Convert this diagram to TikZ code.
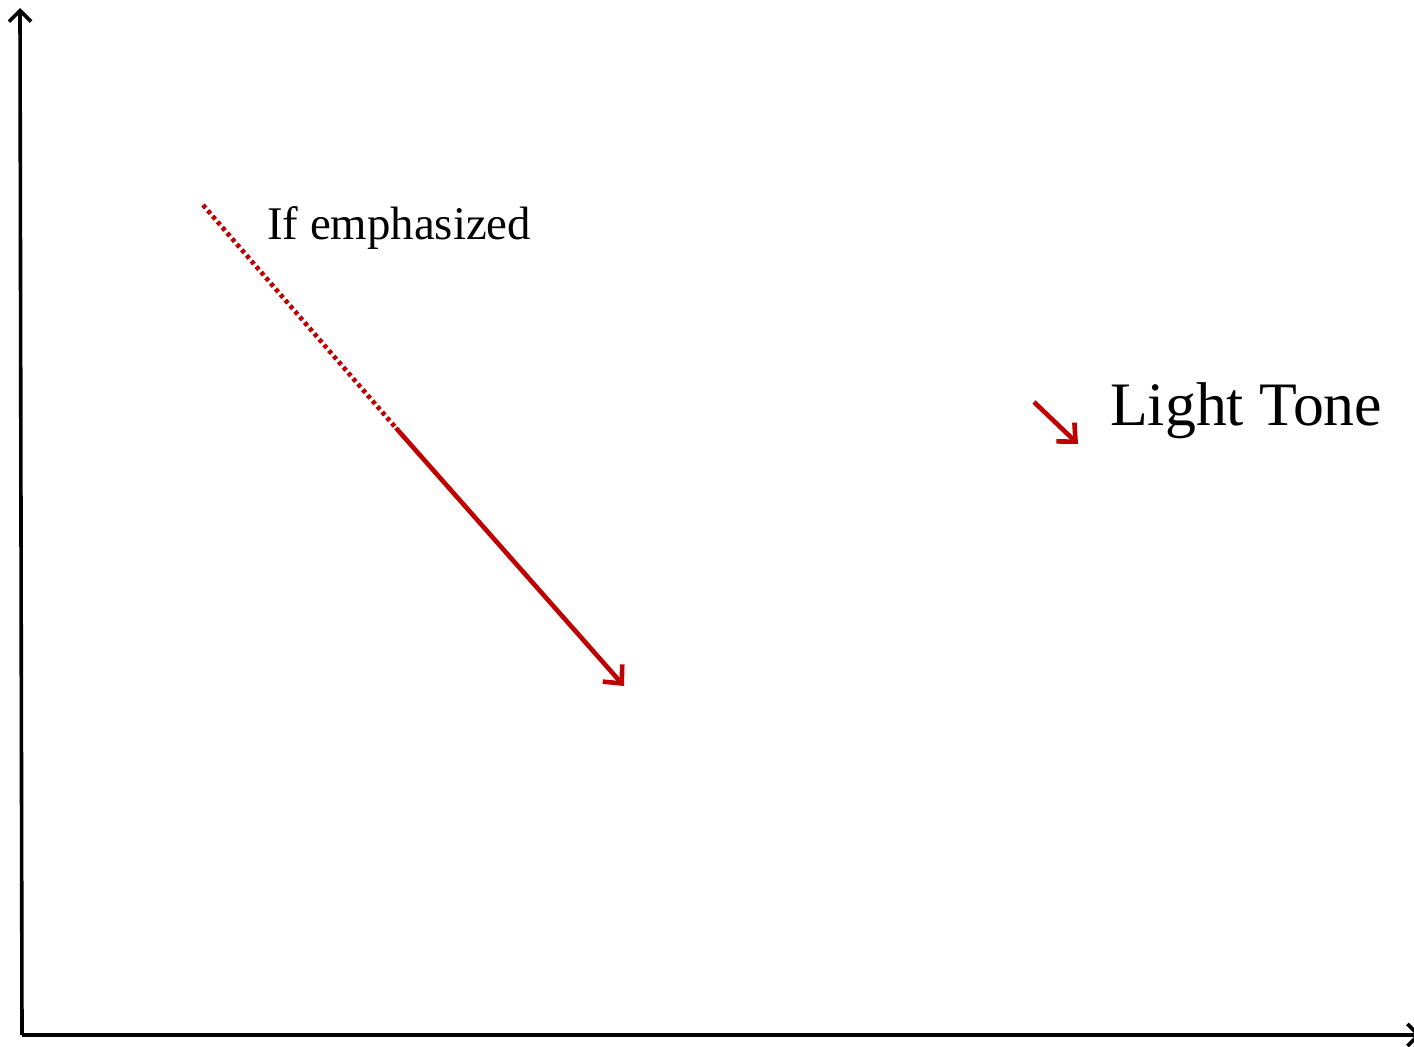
\documentclass[tikz,border=0pt]{standalone}
\usepackage{fontspec}
\setmainfont{Liberation Serif}
\usetikzlibrary{arrows.meta}
\definecolor{tonered}{HTML}{C00000}
\tikzset{
  axisline/.style={line width=3.6pt, black, -{Straight Barb[length=11pt,width=22pt,line width=3.6pt]}},
  redarrow/.style={line width=4.6pt, tonered, -{Straight Barb[length=14pt,width=26pt,line width=4.6pt]}},
  reddots/.style={line width=4.6pt, tonered, dash pattern=on 4pt off 3.4pt},
  label/.style={inner sep=0pt, anchor=base west, text=black}
}
\begin{document}
\begin{tikzpicture}[x=1pt,y=-1pt]
\useasboundingbox (0,0) rectangle (1414,1047);
\coordinate (O) at (22,1035);
\coordinate (ytop) at (20,8);
\coordinate (xend) at (1421,1035);
\draw[axisline] (O) -- (ytop);
\draw[axisline] (O) -- (xend);
\coordinate (dstart) at (203,205);
\coordinate (dmid) at (396,428);
\coordinate (dend) at (624,686);
\draw[reddots] (dstart) -- (dmid);
\draw[redarrow, line cap=butt] (dmid) -- (dend);
\coordinate (sstart) at (1034,402);
\coordinate (send) at (1078,444);
\draw[redarrow] (sstart) -- (send);
\node[label, font=\fontsize{46.8}{52}\selectfont] (emph) at (267,239) {If emphasized};
\node[label, font=\fontsize{61.8}{68}\selectfont] (light) at (1110,425) {Light Tone};
\end{tikzpicture}
\end{document}
